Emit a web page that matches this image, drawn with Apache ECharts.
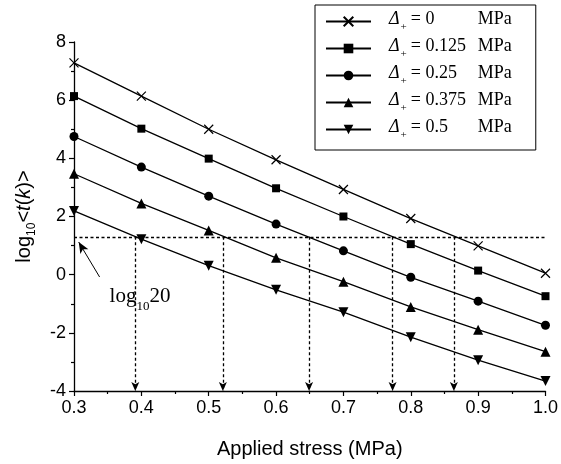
<!DOCTYPE html>
<html>
<head>
<meta charset="utf-8">
<script src="https://cdn.jsdelivr.net/npm/echarts@6/dist/echarts.min.js"></script>
<style>
  html, body { margin: 0; padding: 0; background: #fff; }
  #chart { width: 561px; height: 464px; }
</style>
</head>
<body>
<div id="chart"></div>
<script>
// applied stress (MPa)
const stress = [0.3, 0.4, 0.5, 0.6, 0.7, 0.8, 0.9, 1.0];
// Δ+ values shown in the legend
const deltas = ['0', '0.125', '0.25', '0.375', '0.5'];
// log10 <t(k)> for each Δ+
const d000 = [7.28, 6.14, 5.00, 3.95, 2.93, 1.93, 0.99, 0.05];
const d125 = [6.14, 5.02, 3.99, 2.97, 2.00, 1.05, 0.14, -0.74];
const d250 = [4.75, 3.70, 2.70, 1.74, 0.82, -0.09, -0.91, -1.74];
const d375 = [3.47, 2.45, 1.52, 0.58, -0.24, -1.11, -1.89, -2.65];
const d500 = [2.19, 1.22, 0.31, -0.52, -1.29, -2.15, -2.94, -3.66];
// threshold log10(20) and where each curve crosses it
const threshold = 1.30;
const crossings = [0.391, 0.521, 0.649, 0.773, 0.864];
// arrow pointing from the label to the threshold line
const labelArrow = [[0.338, -0.08], [0.307, 1.12]];
const labelPos = [0.398, -0.85];

const xTicks = [0.3, 0.4, 0.5, 0.6, 0.7, 0.8, 0.9, 1.0];
const yTicks = [-4, -2, 0, 2, 4, 6, 8];

const sans = 'Liberation Sans';
const serif = 'Liberation Serif';

const symbols = [
    'path://M0,0L10,10M10,0L0,10',
    'rect',
    'circle',
    'triangle',
    'path://M0,0L10,0L5,9Z'
];
const symbolSizes = [9, 8, 9, 10, 10];
const allValues = [d000, d125, d250, d375, d500];

const names = deltas.map(d => 'd' + d);

const series = allValues.map((vals, i) => ({
    name: names[i],
    type: 'line',
    data: stress.map((x, j) => [x, vals[j]]),
    symbol: symbols[i],
    symbolSize: symbolSizes[i],
    showSymbol: true,
    lineStyle: {color: '#000', width: 1.3},
    itemStyle: {color: '#000', borderColor: '#000', borderWidth: i === 0 ? 1.2 : 0},
    emphasis: {disabled: true},
    z: 3
}));

//虚线和箭头
const dashStyle = {color: '#000', type: [3, 2.5], width: 1.3};
const markData = [
    [{coord: [xTicks[0], threshold], symbol: 'none'}, {coord: [xTicks[xTicks.length - 1], threshold], symbol: 'none'}]
];
crossings.forEach(x => {
    markData.push([{coord: [x, threshold], symbol: 'none'}, {coord: [x, yTicks[0]], symbol: 'arrow', symbolSize: [6, 9]}]);
});
markData.push([
    {coord: labelArrow[0], symbol: 'none', lineStyle: {type: 'solid', width: 1}},
    {coord: labelArrow[1], symbol: 'arrow', symbolSize: [7, 11], lineStyle: {type: 'solid', width: 1}}
]);

series.push({
    name: 'annot',
    type: 'line',
    data: [],
    silent: true,
    markLine: {
        silent: true,
        animation: false,
        symbol: ['none', 'none'],
        label: {show: false},
        lineStyle: dashStyle,
        emphasis: {disabled: true},
        data: markData
    },
    markPoint: {
        silent: true,
        animation: false,
        symbol: 'circle',
        symbolSize: 0,
        label: {
            show: true,
            formatter: '{a|log}{b|10}{a|20}',
            rich: {
                a: {fontFamily: serif, fontSize: 21, color: '#000', verticalAlign: 'top'},
                b: {fontFamily: serif, fontSize: 13, color: '#000', verticalAlign: 'bottom', padding: [14, 0, 0, 0]}
            }
        },
        data: [{coord: labelPos}]
    }
});

const chart = echarts.init(document.getElementById('chart'));
chart.setOption({
    animation: false,
    backgroundColor: '#fff',
    grid: {left: 74, right: 14, top: 42, bottom: 71},
    legend: {
        data: names,
        left: 315,
        top: 5,
        orient: 'vertical',
        itemWidth: 45,
        itemHeight: 12,
        itemGap: 4,
        padding: [5, 24, 9, 10],
        borderColor: '#000',
        borderWidth: 1,
        backgroundColor: '#fff',
        selectedMode: false,
        formatter: name => {
            const d = deltas[names.indexOf(name)];
            return '{d|Δ}{s|+}{v|= ' + d + '}{u|MPa}';
        },
        textStyle: {
            fontFamily: serif,
            fontSize: 18,
            color: '#000',
            rich: {
                d: {fontFamily: serif, fontSize: 18, fontStyle: 'italic', padding: [0, 0, 0, 13], verticalAlign: 'top'},
                s: {fontFamily: serif, fontSize: 11, verticalAlign: 'bottom', padding: [12, 0, 0, 1]},
                v: {fontFamily: serif, fontSize: 18, width: 67, padding: [0, 0, 0, 4], verticalAlign: 'top'},
                u: {fontFamily: serif, fontSize: 18, verticalAlign: 'top'}
            }
        }
    },
    xAxis: {
        type: 'value',
        min: xTicks[0],
        max: xTicks[xTicks.length - 1],
        interval: 0.1,
        name: 'Applied stress (MPa)',
        nameLocation: 'middle',
        nameGap: 48,
        nameTextStyle: {fontFamily: sans, fontSize: 20, color: '#000'},
        axisLine: {onZero: false, lineStyle: {color: '#000', width: 1.3}},
        axisTick: {length: 5, lineStyle: {color: '#000', width: 1.2}},
        minorTick: {show: true, splitNumber: 2, length: 3, lineStyle: {color: '#000', width: 1.2}},
        splitLine: {show: false},
        axisLabel: {
            fontFamily: sans, fontSize: 18, color: '#000', margin: 8,
            formatter: v => v.toFixed(1)
        }
    },
    yAxis: {
        type: 'value',
        min: yTicks[0],
        max: yTicks[yTicks.length - 1],
        interval: 2,
        name: '{a|log}{b|10}{a|<}{i|t}{a|(}{i|k}{a|)>}',
        nameLocation: 'middle',
        nameRotate: 90,
        nameGap: 36,
        nameTextStyle: {
            rich: {
                a: {fontFamily: sans, fontSize: 20, color: '#000', verticalAlign: 'top'},
                i: {fontFamily: sans, fontSize: 20, fontStyle: 'italic', color: '#000', verticalAlign: 'top'},
                b: {fontFamily: sans, fontSize: 12, color: '#000', verticalAlign: 'bottom', padding: [12, 0, 0, 0]}
            }
        },
        axisLine: {show: true, onZero: false, lineStyle: {color: '#000', width: 1.3}},
        axisTick: {show: true, length: 5, lineStyle: {color: '#000', width: 1.2}},
        minorTick: {show: true, splitNumber: 2, length: 3, lineStyle: {color: '#000', width: 1.2}},
        splitLine: {show: false},
        axisLabel: {fontFamily: sans, fontSize: 18, color: '#000', margin: 8}
    },
    series: series
});
</script>
</body>
</html>
